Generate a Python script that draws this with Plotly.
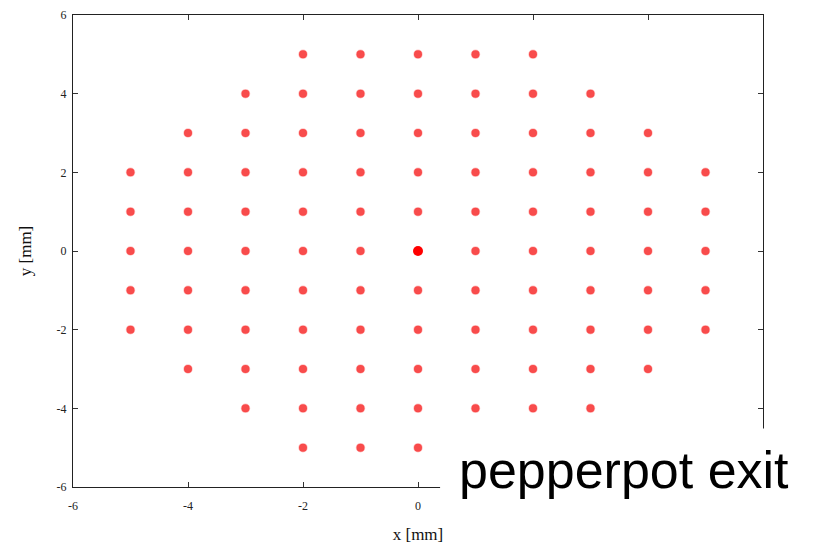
"""Pepperpot exit beamlet pattern."""

import plotly.graph_objects as go

# beamlet rows: y position and the x positions of the holes in that row
row_y = [5, 4, 3, 2, 1, 0, -1, -2, -3, -4, -5]
row_x = [
    [-2, -1, 0, 1, 2],
    [-3, -2, -1, 0, 1, 2, 3],
    [-4, -3, -2, -1, 0, 1, 2, 3, 4],
    [-5, -4, -3, -2, -1, 0, 1, 2, 3, 4, 5],
    [-5, -4, -3, -2, -1, 0, 1, 2, 3, 4, 5],
    [-5, -4, -3, -2, -1, 0, 1, 2, 3, 4, 5],
    [-5, -4, -3, -2, -1, 0, 1, 2, 3, 4, 5],
    [-5, -4, -3, -2, -1, 0, 1, 2, 3, 4, 5],
    [-4, -3, -2, -1, 0, 1, 2, 3, 4],
    [-3, -2, -1, 0, 1, 2, 3],
    [-2, -1, 0, 1, 2],
]
tick_vals = [-6, -4, -2, 0, 2, 4, 6]
y_tick_text = ["-6", "-4", "-2", "0", "2", "4", "6"]
# the caption panel hides the x labels 2, 4 and 6
x_tick_text = ["-6", "-4", "-2", "0", "", "", ""]

xs, ys = [], []
for y, row in zip(row_y, row_x):
    for x in row:
        if (x, y) == (0, 0):
            continue
        xs.append(x)
        ys.append(y)

fig = go.Figure()
fig.add_trace(go.Scatter(
    x=xs, y=ys, mode="markers",
    marker={"size": 8, "color": "rgba(245,0,0,0.7)", "line": {"width": 1.5, "color": "rgba(255,60,60,0.3)"}},
    showlegend=False, hoverinfo="x+y",
))
# the central hole is the densest spot
fig.add_trace(go.Scatter(
    x=[0], y=[0], mode="markers",
    marker={"size": 10, "color": "#ff0000"},
    showlegend=False,
))

axis_common = dict(
    range=[-6, 6], tickvals=tick_vals, ticks="inside", ticklen=5, tickcolor="#333",
    showline=True, linecolor="#222", linewidth=1, mirror="ticks",
    showgrid=False, zeroline=False, automargin=False, ticklabeloverflow="allow",
    tickfont={"family": "Liberation Serif, Times New Roman, serif", "size": 12, "color": "#222"},
)
fig.update_xaxes(**axis_common, ticktext=x_tick_text, ticklabelstandoff=8,
                 title={"text": "x [mm]", "standoff": 15,
                        "font": {"family": "Liberation Serif, serif", "size": 17, "color": "#111"}})
fig.update_yaxes(**axis_common, ticktext=y_tick_text, ticklabelstandoff=3,
                 title={"text": "y [mm]", "standoff": 20,
                        "font": {"family": "Liberation Serif, serif", "size": 17, "color": "#111"}})

# white panel with the caption, lying over the lower right corner
fig.add_shape(type="rect", xref="paper", yref="paper", x0=0.532, x1=1.04, y0=-0.14, y1=0.124,
              fillcolor="white", line={"width": 0}, layer="above")
fig.add_annotation(text="pepperpot exit", xref="paper", yref="paper", x=0.798, y=0.035,
                   xanchor="center", yanchor="middle", showarrow=False,
                   font={"family": "Liberation Sans, Arial, sans-serif", "size": 52, "color": "black"})

# the page body adds 8 px on the left and top, so the figure is 8 px smaller
fig.update_layout(
    width=810, height=537,
    margin={"l": 65, "r": 55, "t": 7, "b": 58},
    plot_bgcolor="white", paper_bgcolor="white",
)

fig.write_html("out.html")
